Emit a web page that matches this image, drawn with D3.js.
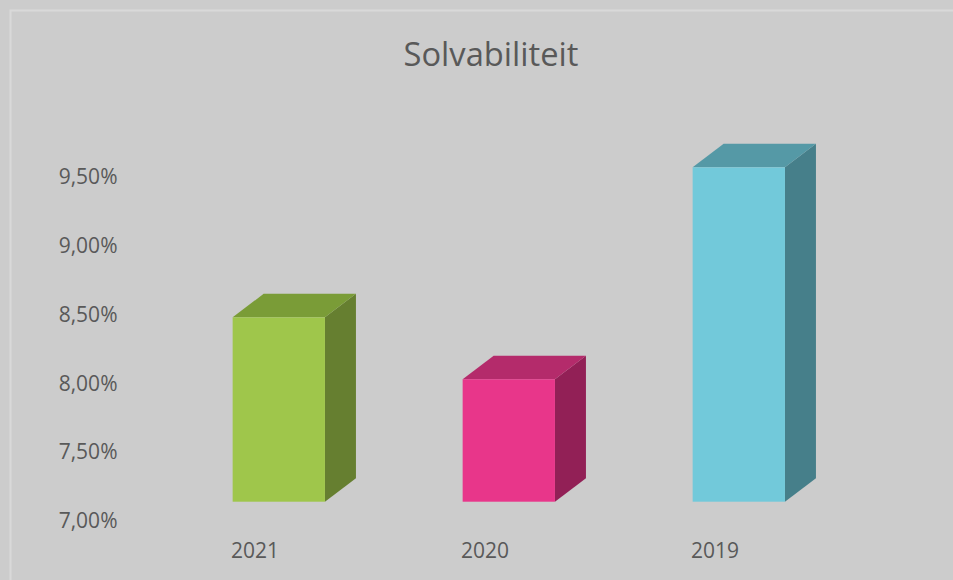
<!DOCTYPE html>
<html>
<head>
<meta charset="utf-8">
<script src="https://cdn.jsdelivr.net/npm/d3@7"></script>
<style>
  html, body { margin: 0; padding: 0; background: #cccccc; overflow: hidden; }
  text { font-family: "Open Sans", sans-serif; fill: #595959; }
</style>
</head>
<body>
<div id="vis"></div>
<script>
const years = ["2021", "2020", "2019"];
const values = [8.34, 7.89, 9.43];
const yTicks = [7.0, 7.5, 8.0, 8.5, 9.0, 9.5];
const frontColors = ["#9fc64b", "#e8368a", "#72c9da"];
const topColors = ["#7a9c37", "#b42b6b", "#5599a6"];
const sideColors = ["#667f30", "#922056", "#467f8a"];

const WIDTH = 953;
const HEIGHT = 580;

// oblique 3d look
const DEPTH = { x: 31, y: 23.5 };
const OFFSET = { x: 23.8, y: 19.1 };
const BAR_W = 92.3;

const SVG = d3.select("#vis").append("svg")
    .attr("width", WIDTH)
    .attr("height", HEIGHT);

SVG.append("rect")
    .attr("width", WIDTH)
    .attr("height", HEIGHT)
    .attr("fill", "#cccccc");

SVG.append("rect")
    .attr("x", 10.5)
    .attr("y", 10.5)
    .attr("width", WIDTH + 20)
    .attr("height", HEIGHT + 20)
    .attr("fill", "none")
    .attr("stroke", "#d9d9d9")
    .attr("stroke-width", 2);

SVG.append("text")
    .text("Solvabiliteit")
    .attr("x", 491)
    .attr("y", 65.7)
    .attr("text-anchor", "middle")
    .attr("font-size", 32.7);

const xScale = d3.scalePoint()
    .domain(years)
    .range([255, 715]);

const yScale = d3.scaleLinear()
    .domain([7.0, 9.5])
    .range([520.8, 176.8]);

// y labels
SVG.append("g").selectAll("text")
    .data(yTicks)
    .join("text")
    .attr("x", 117.5)
    .attr("y", d => yScale(d))
    .attr("dy", "0.35em")
    .attr("text-anchor", "end")
    .attr("font-size", 21)
    .text(d => d.toFixed(2).replace(".", ",") + "%");

// x labels
SVG.append("g").selectAll("text")
    .data(years)
    .join("text")
    .attr("x", d => xScale(d))
    .attr("y", 557.7)
    .attr("text-anchor", "middle")
    .attr("font-size", 21)
    .text(d => d);

const bars = SVG.append("g").selectAll("g.bar")
    .data(years.map((y, i) => ({ year: y, value: values[i], i })))
    .join("g")
    .attr("class", "bar");

bars.each(function(d) {
    const g = d3.select(this);
    const x0 = xScale(d.year) + OFFSET.x - BAR_W / 2;
    const x1 = x0 + BAR_W;
    const yb = yScale(7.0) - OFFSET.y;
    const yt = yScale(d.value) - OFFSET.y;

    // side face
    g.append("path")
        .attr("d", `M${x1},${yt} L${x1 + DEPTH.x},${yt - DEPTH.y} L${x1 + DEPTH.x},${yb - DEPTH.y} L${x1},${yb} Z`)
        .attr("fill", sideColors[d.i]);

    // top face
    g.append("path")
        .attr("d", `M${x0},${yt} L${x0 + DEPTH.x},${yt - DEPTH.y} L${x1 + DEPTH.x},${yt - DEPTH.y} L${x1},${yt} Z`)
        .attr("fill", topColors[d.i]);

    // front face
    g.append("rect")
        .attr("x", x0)
        .attr("y", yt)
        .attr("width", BAR_W)
        .attr("height", yb - yt)
        .attr("fill", frontColors[d.i]);
});
</script>
</body>
</html>
